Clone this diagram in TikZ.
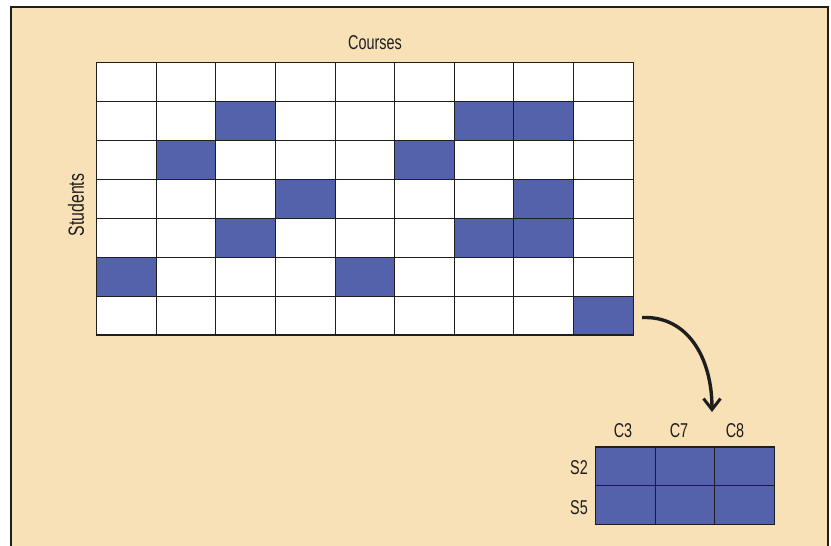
\documentclass[tikz,border=0pt]{standalone}
\usepackage{fontspec}
\setmainfont{Liberation Sans}[FakeStretch=0.72]
\usetikzlibrary{positioning,arrows.meta}
\definecolor{peach}{RGB}{249,225,183}
\definecolor{cellblue}{RGB}{83,98,170}
\definecolor{ink}{RGB}{30,30,30}

\begin{document}
\begin{tikzpicture}[
  x=1pt, y=-1pt,
  font=\fontsize{20}{24}\selectfont,
  cell/.style={draw=ink, line width=1.1pt, fill=white, inner sep=0pt, outer sep=0pt,
               minimum width=59.6pt, minimum height=38.9pt},
  hit/.style={cell, fill=cellblue},
  lab/.style={text=ink, inner sep=1pt},
  ar/.style={-{Straight Barb[length=11pt,width=17pt,line width=3pt]}, draw=ink, line width=3.4pt},
]
\useasboundingbox (0,0) rectangle (831,546);
\fill[white] (0,0) rectangle (831,546);
\fill[peach] (11,7) rectangle (828,546);
\draw[ink, line width=2.6pt] (11,546) -- (11,7) -- (828,7) -- (828,546);

% big matrix, students x courses
\foreach \r in {0,...,6}
  \foreach \c in {0,...,8}
    \node[cell] (m-\r-\c) at ({96.7+59.6*(\c+0.5)},{62.7+38.9*(\r+0.5)}) {};
\foreach \r/\c in {1/2,1/6,1/7,2/1,2/5,3/3,3/7,4/2,4/6,4/7,5/0,5/4,6/8}
  \node[hit] at (m-\r-\c) {};

\node[lab] (courses) at (375,43) {Courses};
\node[lab, rotate=90, font=\fontsize{22}{26}\selectfont] (students) at (76,205) {Students};

% extracted block
\foreach \r/\s in {0/S2,1/S5}
  \foreach \c/\k in {0/C3,1/C7,2/C8}
    \node[hit] (b-\s-\k) at ({595.7+59.6*(\c+0.5)},{447+38.9*(\r+0.5)}) {};

\node[lab] (c3) at (623,431) {C3};
\node[lab] (c7) at (679,431) {C7};
\node[lab] (c8) at (735,431) {C8};
\node[lab] (s2) at (579,468) {S2};
\node[lab] (s5) at (579,508) {S5};

\coordinate (tip) at (712,412);
\draw[ar] ([xshift=9pt,yshift=-2pt]m-6-8.east) .. controls +(45,-2) and +(0,-55) .. (tip);
\end{tikzpicture}
\end{document}
